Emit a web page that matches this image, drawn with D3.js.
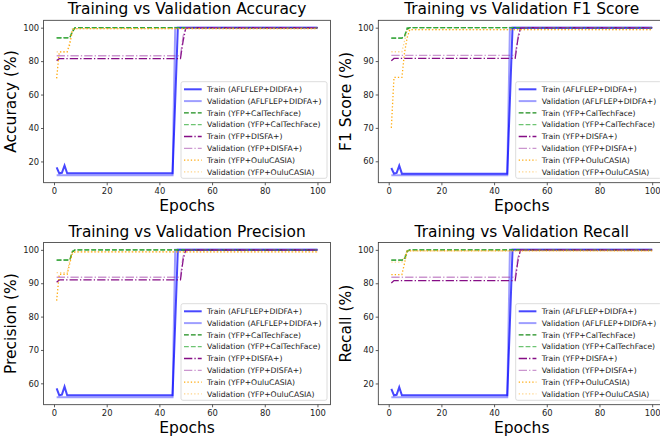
<!DOCTYPE html>
<html>
<head>
<meta charset="utf-8">
<script src="https://cdn.jsdelivr.net/npm/d3@7"></script>
<style>
  body { margin: 0; background: #fff; }
  svg { font-family: "DejaVu Sans", sans-serif; }
  .tick text { fill: #222; }
</style>
</head>
<body>
<svg id="svg" width="660" height="444"></svg>
<script>
// legend labels, same order as the series arrays below
var seriesNames = [
  "Train (AFLFLEP+DIDFA+)",
  "Validation (AFLFLEP+DIDFA+)",
  "Train (YFP+CalTechFace)",
  "Validation (YFP+CalTechFace)",
  "Train (YFP+DISFA+)",
  "Validation (YFP+DISFA+)",
  "Train (YFP+OuluCASIA)",
  "Validation (YFP+OuluCASIA)"
];

var epochTicks = [0, 20, 40, 60, 80, 100];
var firstEpoch = 1, lastEpoch = 100;

// [epoch, value] vertices of each curve (value stays flat between listed epochs)
var accuracyValues = [
  [[1,16.5],[2,12.9],[3,13.2],[4,17.6],[5,12.9],[45,12.9],[46,56],[47,100],[100,100]],
  [[1,11.7],[45,11.7],[46,100],[100,100]],
  [[1,93.9],[6,93.9],[7,97.5],[8,100],[100,100]],
  [[1,93.9],[6,94.1],[7,98.5],[8,100],[100,100]],
  [[1,80.3],[2,81.5],[48,81.5],[49,92],[50,99.6],[51,100],[100,100]],
  [[1,83.2],[48,83.2],[49,95],[50,100],[100,100]],
  [[1,69.7],[2,85.5],[5,85.5],[6,90],[7,98.5],[8,99.4],[100,99.4]],
  [[1,85.5],[5,85.5],[6,92],[7,99.4],[100,99.4]]
];

var f1Values = [
  [[1,58.0],[2,56.3],[3,56.5],[4,58.7],[5,56.3],[45,56.3],[46,78],[47,100],[100,100]],
  [[1,55.8],[45,55.8],[46,100],[100,100]],
  [[1,96.9],[5,96.9],[6,97.3],[7,99.6],[8,100],[100,100]],
  [[1,96.9],[5,96.9],[6,97.6],[7,100],[100,100]],
  [[1,90.1],[2,90.8],[48,90.8],[49,96.4],[50,99.8],[51,100],[100,100]],
  [[1,91.7],[48,91.7],[49,97],[50,100],[100,100]],
  [[1,70.0],[2,85.1],[5,85.1],[6,92.5],[7,97],[8,99.4],[100,99.4]],
  [[1,92.8],[5,92.8],[6,96],[7,99.4],[100,99.4]]
];

var precisionValues = [
  [[1,58.5],[2,56.4],[3,56.6],[4,59.0],[5,56.4],[45,56.4],[46,78],[47,100],[100,100]],
  [[1,55.8],[45,55.8],[46,100],[100,100]],
  [[1,96.9],[6,96.9],[7,99.4],[8,100],[100,100]],
  [[1,96.9],[6,97.1],[7,99.7],[8,100],[100,100]],
  [[1,90.3],[2,91.0],[48,91.0],[49,97],[50,100],[100,100]],
  [[1,91.8],[48,91.8],[49,98],[50,100],[100,100]],
  [[1,84.8],[2,92.7],[5,92.7],[6,96],[7,99],[8,99.4],[100,99.4]],
  [[1,93.2],[5,93.2],[6,97],[7,99.4],[100,99.4]]
];

var recallValues = [
  [[1,16.8],[2,12.9],[3,13.2],[4,17.8],[5,12.9],[45,12.9],[46,56],[47,100],[100,100]],
  [[1,11.7],[45,11.7],[46,100],[100,100]],
  [[1,93.9],[5,93.9],[6,94.2],[7,99],[8,100],[100,100]],
  [[1,93.9],[5,93.9],[6,94.5],[7,99.5],[8,100],[100,100]],
  [[1,80.2],[2,81.6],[48,81.6],[49,93],[50,100],[100,100]],
  [[1,83.6],[48,83.6],[49,95],[50,100],[100,100]],
  [[1,85.2],[5,85.2],[6,92],[7,99.4],[100,99.4]],
  [[1,92.7],[5,92.7],[6,96],[7,99.4],[100,99.4]]
];

var accuracyTicks = [20, 40, 60, 80, 100];
var f1Ticks = [60, 70, 80, 90, 100];
var precisionTicks = [60, 70, 80, 90, 100];
var recallTicks = [20, 40, 60, 80, 100];

// line styles per series
var styles = [
  { color: "blue", opacity: 0.72, width: 2, dash: null },
  { color: "blue", opacity: 0.38, width: 2, dash: null },
  { color: "green", opacity: 0.9, width: 1.3, dash: "4.8,2.1" },
  { color: "#3cb043", opacity: 0.75, width: 1.3, dash: "4.8,2.1" },
  { color: "purple", opacity: 0.95, width: 1.3, dash: "8.3,2.1,1.3,2.1" },
  { color: "#a040a8", opacity: 0.55, width: 1.3, dash: "8.3,2.1,1.3,2.1" },
  { color: "orange", opacity: 0.95, width: 1.3, dash: "1.3,2.1" },
  { color: "#ffb83a", opacity: 0.6, width: 1.3, dash: "1.3,2.1" }
];

var panels = [
  { title: "Training vs Validation Accuracy", ylabel: "Accuracy (%)", values: accuracyValues, ticks: accuracyTicks, col: 0, row: 0 },
  { title: "Training vs Validation F1 Score", ylabel: "F1 Score (%)", values: f1Values, ticks: f1Ticks, col: 1, row: 0 },
  { title: "Training vs Validation Precision", ylabel: "Precision (%)", values: precisionValues, ticks: precisionTicks, col: 0, row: 1 },
  { title: "Training vs Validation Recall", ylabel: "Recall (%)", values: recallValues, ticks: recallTicks, col: 1, row: 1 }
];

var colLeft = [43.6, 378.3], colRight = [330.5, 665.2];
var rowTop = [20.3, 242.5], rowBottom = [182.7, 404.7];

var svg = d3.select("#svg");

panels.forEach(function (p, pi) {
  var left = colLeft[p.col], right = colRight[p.col];
  var top = rowTop[p.row], bottom = rowBottom[p.row];

  var xPad = (lastEpoch - firstEpoch) * 0.05;
  var x = d3.scaleLinear()
    .domain([firstEpoch - xPad, lastEpoch + xPad])
    .range([left, right]);

  var all = [];
  p.values.forEach(function (s) { s.forEach(function (d) { all.push(d[1]); }); });
  var ext = d3.extent(all);
  var yPad = (ext[1] - ext[0]) * 0.05;
  var y = d3.scaleLinear()
    .domain([ext[0] - yPad, ext[1] + yPad])
    .range([bottom, top]);

  var g = svg.append("g");

  svg.append("clipPath").attr("id", "clip" + pi)
    .append("rect")
    .attr("x", left).attr("y", top)
    .attr("width", right - left).attr("height", bottom - top);

  var line = d3.line()
    .x(function (d) { return x(d[0]); })
    .y(function (d) { return y(d[1]); });

  var lines = g.append("g").attr("clip-path", "url(#clip" + pi + ")");
  p.values.forEach(function (s, i) {
    var st = styles[i];
    lines.append("path")
      .datum(s)
      .attr("d", line)
      .attr("fill", "none")
      .attr("stroke", st.color)
      .attr("stroke-opacity", st.opacity)
      .attr("stroke-width", st.width)
      .attr("stroke-dasharray", st.dash);
  });

  // axes
  var xAxis = g.append("g")
    .attr("transform", "translate(0," + bottom + ")")
    .call(d3.axisBottom(x).tickValues(epochTicks).tickSize(2.6).tickPadding(3));
  var yAxis = g.append("g")
    .attr("transform", "translate(" + left + ",0)")
    .call(d3.axisLeft(y).tickValues(p.ticks).tickSize(2.6).tickPadding(1.8));
  [xAxis, yAxis].forEach(function (a) {
    a.select(".domain").remove();
    a.selectAll(".tick line").attr("stroke", "#333").attr("stroke-width", 0.8);
    a.selectAll(".tick text").attr("font-size", 8.4).attr("font-family", "DejaVu Sans");
  });

  // frame
  g.append("rect")
    .attr("x", left).attr("y", top)
    .attr("width", right - left).attr("height", bottom - top)
    .attr("fill", "none").attr("stroke", "#333").attr("stroke-width", 0.8);

  // title and labels
  g.append("text")
    .attr("x", (left + right) / 2).attr("y", top - 6)
    .attr("text-anchor", "middle").attr("font-size", 15.4)
    .text(p.title);
  g.append("text")
    .attr("x", (left + right) / 2).attr("y", bottom + 28.6)
    .attr("text-anchor", "middle").attr("font-size", 15.5)
    .text("Epochs");
  g.append("text")
    .attr("transform", "translate(" + (left - 27.3) + "," + ((top + bottom) / 2) + ")rotate(-90)")
    .attr("text-anchor", "middle").attr("font-size", 15.5)
    .text(p.ylabel);

  // legend, lower right
  var lw = 146, lh = 96.6;
  var lx = right - 3.5 - lw, ly = bottom - 4.4 - lh;
  var legend = g.append("g").attr("transform", "translate(" + lx + "," + ly + ")");
  legend.append("rect")
    .attr("width", lw).attr("height", lh).attr("rx", 2)
    .attr("fill", "#fff").attr("fill-opacity", 0.8)
    .attr("stroke", "#d3d3d3").attr("stroke-width", 0.8);
  var item = legend.selectAll(".item")
    .data(seriesNames)
    .enter().append("g")
    .attr("class", "item")
    .attr("transform", function (d, i) { return "translate(0," + (7.6 + i * 11.8) + ")"; });
  item.append("line")
    .attr("x1", 3).attr("x2", 20.7)
    .attr("stroke", function (d, i) { return styles[i].color; })
    .attr("stroke-opacity", function (d, i) { return styles[i].opacity; })
    .attr("stroke-width", function (d, i) { return styles[i].width; })
    .attr("stroke-dasharray", function (d, i) { return styles[i].dash; });
  item.append("text")
    .attr("x", 26).attr("dy", "0.35em")
    .attr("font-size", 7.7).attr("fill", "#222")
    .text(function (d) { return d; });
});
</script>
</body>
</html>
